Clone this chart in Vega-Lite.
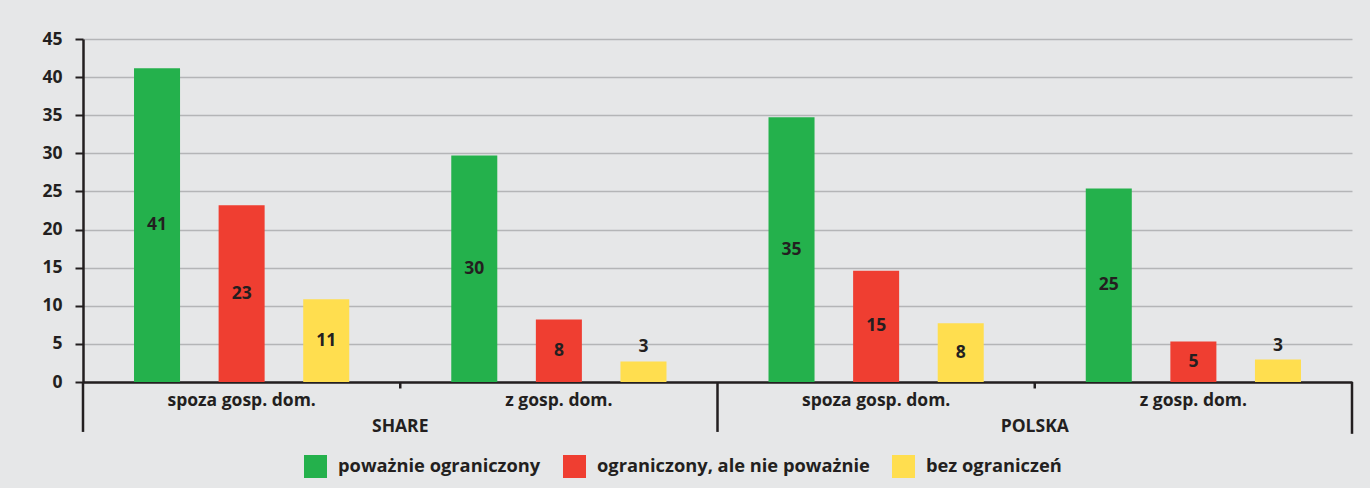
{
  "$schema": "https://vega.github.io/schema/vega-lite/v6.json",
  "width": 1269,
  "height": 343,
  "autosize": {"type": "none"},
  "padding": {"left": 83, "top": 39, "right": 18, "bottom": 106},
  "background": "#e6e7e8",
  "config": {
    "view": {"stroke": null},
    "font": "Open Sans",
    "axis": {"labelFont": "Open Sans", "labelFontWeight": 700, "labelColor": "#231f20"}
  },
  "datasets": {
    "bars": [
      {"cat": "SHARE|spoza gosp. dom.", "series": "poważnie ograniczony", "value": 41.15, "label": "41"},
      {"cat": "SHARE|spoza gosp. dom.", "series": "ograniczony, ale nie poważnie", "value": 23.2, "label": "23"},
      {"cat": "SHARE|spoza gosp. dom.", "series": "bez ograniczeń", "value": 10.85, "label": "11"},
      {"cat": "SHARE|z gosp. dom.", "series": "poważnie ograniczony", "value": 29.7, "label": "30"},
      {"cat": "SHARE|z gosp. dom.", "series": "ograniczony, ale nie poważnie", "value": 8.2, "label": "8"},
      {"cat": "SHARE|z gosp. dom.", "series": "bez ograniczeń", "value": 2.7, "label": "3"},
      {"cat": "POLSKA|spoza gosp. dom.", "series": "poważnie ograniczony", "value": 34.75, "label": "35"},
      {"cat": "POLSKA|spoza gosp. dom.", "series": "ograniczony, ale nie poważnie", "value": 14.6, "label": "15"},
      {"cat": "POLSKA|spoza gosp. dom.", "series": "bez ograniczeń", "value": 7.7, "label": "8"},
      {"cat": "POLSKA|z gosp. dom.", "series": "poważnie ograniczony", "value": 25.4, "label": "25"},
      {"cat": "POLSKA|z gosp. dom.", "series": "ograniczony, ale nie poważnie", "value": 5.3, "label": "5"},
      {"cat": "POLSKA|z gosp. dom.", "series": "bez ograniczeń", "value": 2.95, "label": "3"}
    ],
    "groupStarts": [
      {"cat": "SHARE|spoza gosp. dom."},
      {"cat": "POLSKA|spoza gosp. dom."}
    ],
    "groupEnds": [
      {"cat": "POLSKA|z gosp. dom."}
    ],
    "groups": [
      {"cat": "SHARE|z gosp. dom.", "group": "SHARE"},
      {"cat": "POLSKA|z gosp. dom.", "group": "POLSKA"}
    ]
  },
  "layer": [
    {
      "data": {"name": "bars"},
      "mark": {"type": "bar"},
      "encoding": {
        "x": {
          "field": "cat", "type": "nominal",
          "scale": {"domain": ["SHARE|spoza gosp. dom.", "SHARE|z gosp. dom.", "POLSKA|spoza gosp. dom.", "POLSKA|z gosp. dom."], "paddingInner": 0, "paddingOuter": 0},
          "axis": {
            "title": null, "ticks": false, "tickSize": 0, "labelAngle": 0, "labelPadding": 9,
            "labelFontSize": 17.5,
            "labelExpr": "split(datum.value, '|')[1]",
            "domainColor": "#231f20", "domainWidth": 2.5, "grid": false
          }
        },
        "xOffset": {
          "field": "series", "type": "nominal",
          "scale": {"domain": ["poważnie ograniczony", "ograniczony, ale nie poważnie", "bez ograniczeń"], "paddingInner": 0.456, "paddingOuter": 0.603}
        },
        "y": {
          "field": "value", "type": "quantitative",
          "scale": {"domain": [0, 45], "nice": false},
          "axis": {
            "title": null, "values": [0, 5, 10, 15, 20, 25, 30, 35, 40, 45], "labelOverlap": false,
            "grid": true, "gridColor": "#b4b5b7", "gridWidth": 1.6, "labelFontSize": 17.5,
            "domainColor": "#231f20", "domainWidth": 2.5,
            "tickColor": "#231f20", "tickWidth": 2, "tickSize": 8, "labelPadding": 13
          }
        },
        "color": {
          "field": "series", "type": "nominal",
          "scale": {"domain": ["poważnie ograniczony", "ograniczony, ale nie poważnie", "bez ograniczeń"], "range": ["#24b14c", "#ef3e31", "#ffde4f"]},
          "legend": {
            "title": null, "orient": "none", "legendX": 221, "legendY": 416, "direction": "horizontal",
            "symbolType": "square", "symbolSize": 529, "symbolStrokeWidth": 0, "symbolOpacity": 1,
            "labelFont": "Open Sans", "labelFontWeight": 700, "labelFontSize": 18.3, "labelColor": "#231f20",
            "labelOffset": 11, "columnPadding": 22, "labelLimit": 0, "padding": 0
          }
        }
      }
    },
    {
      "data": {"name": "bars"},
      "transform": [
        {"filter": "datum.value >= 4"},
        {"calculate": "datum.value / 2", "as": "mid"}
      ],
      "mark": {"type": "text", "font": "Open Sans", "fontWeight": 700, "fontSize": 17.5, "color": "#231f20", "baseline": "middle"},
      "encoding": {
        "x": {"field": "cat", "type": "nominal"},
        "xOffset": {"field": "series", "type": "nominal"},
        "y": {"field": "mid", "type": "quantitative", "axis": {
            "title": null, "values": [0, 5, 10, 15, 20, 25, 30, 35, 40, 45], "labelOverlap": false,
            "grid": true, "gridColor": "#b4b5b7", "gridWidth": 1.6, "labelFontSize": 17.5,
            "domainColor": "#231f20", "domainWidth": 2.5,
            "tickColor": "#231f20", "tickWidth": 2, "tickSize": 8, "labelPadding": 13
          }},
        "text": {"field": "label"}
      }
    },
    {
      "data": {"name": "bars"},
      "transform": [{"filter": "datum.value < 4"}],
      "mark": {"type": "text", "font": "Open Sans", "fontWeight": 700, "fontSize": 17.5, "color": "#231f20", "baseline": "middle", "dy": -14},
      "encoding": {
        "x": {"field": "cat", "type": "nominal"},
        "xOffset": {"field": "series", "type": "nominal"},
        "y": {"field": "value", "type": "quantitative", "axis": {
            "title": null, "values": [0, 5, 10, 15, 20, 25, 30, 35, 40, 45], "labelOverlap": false,
            "grid": true, "gridColor": "#b4b5b7", "gridWidth": 1.6, "labelFontSize": 17.5,
            "domainColor": "#231f20", "domainWidth": 2.5,
            "tickColor": "#231f20", "tickWidth": 2, "tickSize": 8, "labelPadding": 13
          }},
        "text": {"field": "label"}
      }
    },
    {
      "data": {"name": "groupStarts"},
      "mark": {"type": "rule", "color": "#231f20", "strokeWidth": 2.5},
      "encoding": {
        "x": {"field": "cat", "type": "nominal", "bandPosition": 0},
        "y": {"datum": 0, "type": "quantitative", "axis": {
            "title": null, "values": [0, 5, 10, 15, 20, 25, 30, 35, 40, 45], "labelOverlap": false,
            "grid": true, "gridColor": "#b4b5b7", "gridWidth": 1.6, "labelFontSize": 17.5,
            "domainColor": "#231f20", "domainWidth": 2.5,
            "tickColor": "#231f20", "tickWidth": 2, "tickSize": 8, "labelPadding": 13
          }},
        "y2": {"datum": -6.55}
      }
    },
    {
      "data": {"name": "groupEnds"},
      "mark": {"type": "rule", "color": "#231f20", "strokeWidth": 2.5},
      "encoding": {
        "x": {"field": "cat", "type": "nominal", "bandPosition": 1},
        "y": {"datum": 0, "type": "quantitative", "axis": {
            "title": null, "values": [0, 5, 10, 15, 20, 25, 30, 35, 40, 45], "labelOverlap": false,
            "grid": true, "gridColor": "#b4b5b7", "gridWidth": 1.6, "labelFontSize": 17.5,
            "domainColor": "#231f20", "domainWidth": 2.5,
            "tickColor": "#231f20", "tickWidth": 2, "tickSize": 8, "labelPadding": 13
          }},
        "y2": {"datum": -6.8}
      }
    },
    {
      "data": {"name": "groups"},
      "mark": {"type": "rule", "color": "#231f20", "strokeWidth": 2.5},
      "encoding": {
        "x": {"field": "cat", "type": "nominal", "bandPosition": 0},
        "y": {"datum": 0, "type": "quantitative", "axis": {
            "title": null, "values": [0, 5, 10, 15, 20, 25, 30, 35, 40, 45], "labelOverlap": false,
            "grid": true, "gridColor": "#b4b5b7", "gridWidth": 1.6, "labelFontSize": 17.5,
            "domainColor": "#231f20", "domainWidth": 2.5,
            "tickColor": "#231f20", "tickWidth": 2, "tickSize": 8, "labelPadding": 13
          }},
        "y2": {"datum": -0.85}
      }
    },
    {
      "data": {"name": "groups"},
      "mark": {"type": "text", "font": "Open Sans", "fontWeight": 700, "fontSize": 17.5, "color": "#231f20", "baseline": "middle"},
      "encoding": {
        "x": {"field": "cat", "type": "nominal", "bandPosition": 0},
        "y": {"datum": -5.85, "type": "quantitative", "axis": {
            "title": null, "values": [0, 5, 10, 15, 20, 25, 30, 35, 40, 45], "labelOverlap": false,
            "grid": true, "gridColor": "#b4b5b7", "gridWidth": 1.6, "labelFontSize": 17.5,
            "domainColor": "#231f20", "domainWidth": 2.5,
            "tickColor": "#231f20", "tickWidth": 2, "tickSize": 8, "labelPadding": 13
          }},
        "text": {"field": "group"}
      }
    }
  ]
}
